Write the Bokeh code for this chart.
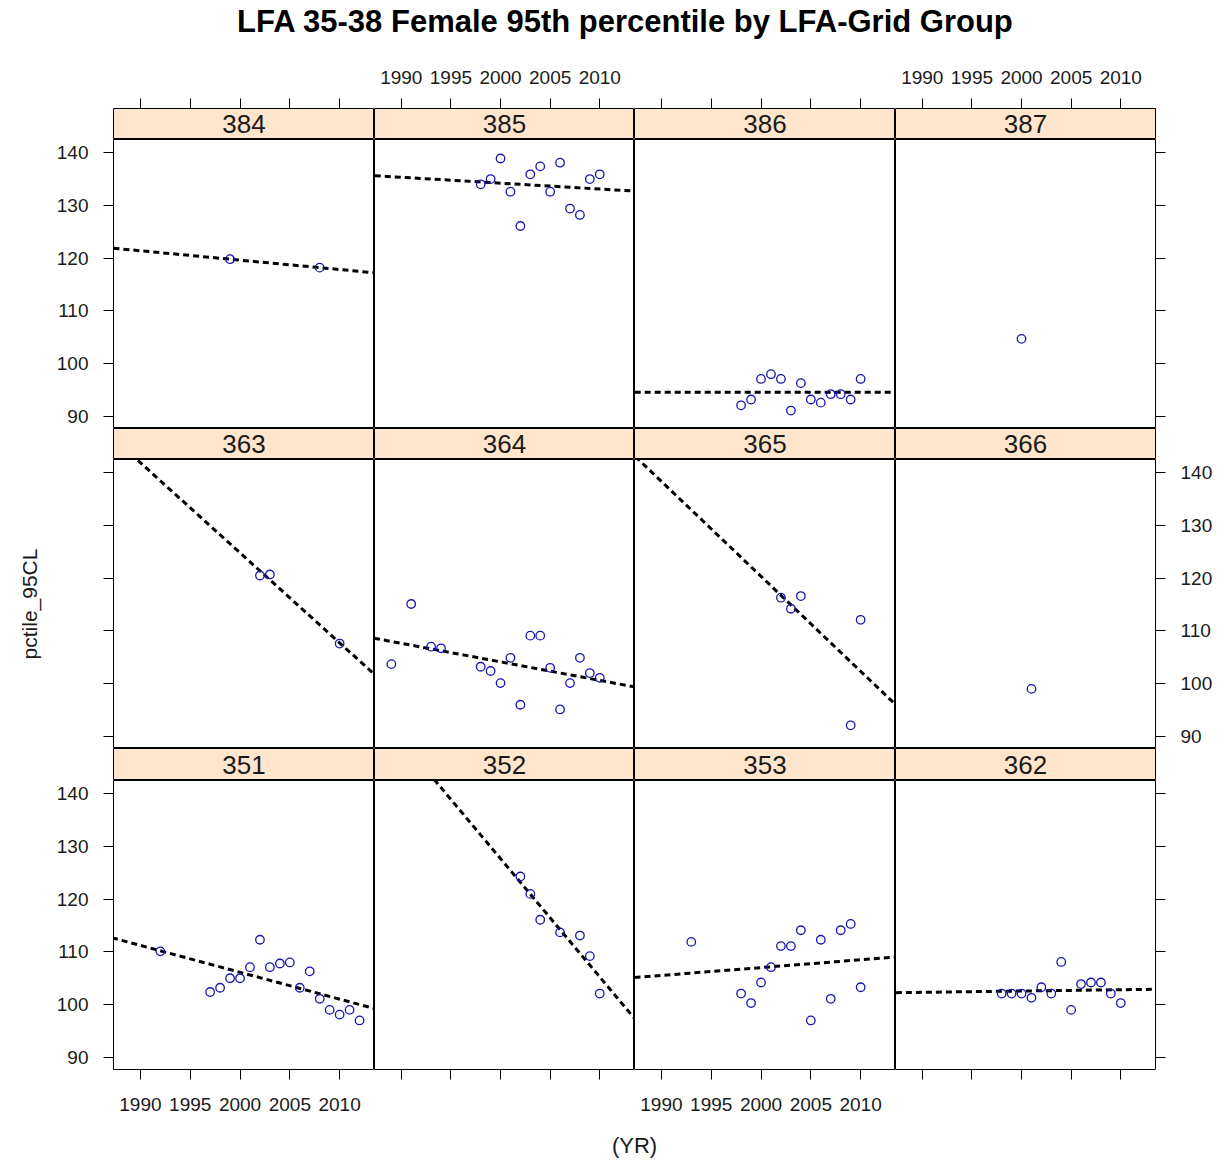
import numpy as np
from bokeh.plotting import figure
from bokeh.layouts import column, row
from bokeh.models import Range1d, FixedTicker
from bokeh.embed import file_html
from bokeh.resources import INLINE
from bokeh.core.properties import value

# ---------------- data ----------------
TITLE = "LFA 35-38 Female 95th percentile by LFA-Grid Group"
X_LABEL = "(YR)"
Y_LABEL = "pctile_95CL"
x_ticks = [1990, 1995, 2000, 2005, 2010]
y_ticks = [90, 100, 110, 120, 130, 140]
panel_rows = [["384", "385", "386", "387"],
              ["363", "364", "365", "366"],
              ["351", "352", "353", "362"]]

yr_384 = [1999, 2008]
val_384 = [119.8, 118.2]
yr_385 = [1998, 1999, 2000, 2001, 2002, 2003, 2004, 2005, 2006, 2007, 2008, 2009, 2010]
val_385 = [134.0, 135.0, 138.9, 132.6, 126.1, 135.9, 137.4, 132.6, 138.1, 129.4, 128.2, 135.0, 135.9]
yr_386 = [1998, 1999, 2000, 2001, 2002, 2003, 2004, 2005, 2006, 2007, 2008, 2009, 2010]
val_386 = [92.1, 93.2, 97.1, 98.0, 97.1, 91.1, 96.3, 93.2, 92.6, 94.2, 94.2, 93.2, 97.1]
yr_387 = [2000]
val_387 = [104.7]

yr_363 = [2002, 2003, 2010]
val_363 = [120.5, 120.7, 107.6]
yr_364 = [1989, 1991, 1993, 1994, 1998, 1999, 2000, 2001, 2002, 2003, 2004, 2005, 2006, 2007, 2008, 2009, 2010]
val_364 = [103.7, 115.1, 107.0, 106.7, 103.2, 102.4, 100.1, 104.9, 96.0, 109.1, 109.1, 103.0, 95.1, 100.1, 104.9, 102.0, 101.1]
yr_365 = [2002, 2003, 2004, 2009, 2010]
val_365 = [116.3, 114.2, 116.6, 92.1, 112.1]
yr_366 = [2001]
val_366 = [99.0]

yr_351 = [1992, 1997, 1998, 1999, 2000, 2001, 2002, 2003, 2004, 2005, 2006, 2007, 2008, 2009, 2010, 2011, 2012]
val_351 = [110.1, 102.4, 103.2, 105.0, 105.0, 107.1, 112.3, 107.1, 107.8, 108.0, 103.2, 106.3, 101.1, 99.0, 98.1, 99.0, 97.0]
yr_352 = [2002, 2003, 2004, 2006, 2008, 2009, 2010]
val_352 = [124.3, 121.0, 116.1, 113.7, 113.1, 109.2, 102.1]
yr_353 = [1993, 1998, 1999, 2000, 2001, 2002, 2003, 2004, 2005, 2006, 2007, 2008, 2009, 2010]
val_353 = [111.9, 102.1, 100.3, 104.2, 107.1, 111.1, 111.1, 114.1, 97.0, 112.3, 101.1, 114.1, 115.3, 103.3]
yr_362 = [1998, 1999, 2000, 2001, 2002, 2003, 2004, 2005, 2006, 2007, 2008, 2009, 2010]
val_362 = [102.1, 102.1, 102.1, 101.3, 103.3, 102.1, 108.1, 99.0, 103.9, 104.2, 104.2, 102.1, 100.3]

panel_data = {
    "384": (yr_384, val_384), "385": (yr_385, val_385), "386": (yr_386, val_386), "387": (yr_387, val_387),
    "363": (yr_363, val_363), "364": (yr_364, val_364), "365": (yr_365, val_365), "366": (yr_366, val_366),
    "351": (yr_351, val_351), "352": (yr_352, val_352), "353": (yr_353, val_353), "362": (yr_362, val_362),
}

# ---------------- styling / layout ----------------
FONT = "Liberation Sans"
X_MIN, X_MAX = 1987.3, 2013.5
Y_MIN, Y_MAX = 87.7, 142.5
FRAME_W = [261, 260, 261, 260]
LEFT_B, RIGHT_B = 113, 58
PANEL_H = 289
STRIP_H = [31, 31, 32]
STRIP_BG = "#FFE5CC"
PT_COLOR = "#1515B0"
TXT = "#1a1a1a"
TOTAL_W = LEFT_B + sum(FRAME_W) + RIGHT_B
TITLE_H = 48
XLAB_H = 47

xr = Range1d(X_MIN, X_MAX)
yr_ = Range1d(Y_MIN, Y_MAX)


def style_axis(ax, ticks, show_labels, standoff):
    ax.ticker = FixedTicker(ticks=ticks)
    ax.axis_line_color = None
    ax.major_tick_out = 10
    ax.major_tick_in = 0
    ax.major_tick_line_color = "black"
    ax.major_tick_line_width = 1
    ax.minor_tick_line_color = None
    ax.major_label_text_font = FONT
    ax.major_label_text_font_size = "19px"
    ax.major_label_text_color = TXT
    ax.major_label_standoff = standoff
    if not show_labels:
        ax.major_label_overrides = {t: "" for t in ticks}


def base_fig(ci, fh, top=0, bottom=0, x_loc=None, y_loc=None, y_range=None):
    p = figure(frame_width=FRAME_W[ci], frame_height=fh,
               x_range=xr, y_range=y_range if y_range is not None else yr_,
               x_axis_location=x_loc, y_axis_location=y_loc,
               toolbar_location=None, output_backend="svg",
               min_border_left=LEFT_B if ci == 0 else 0,
               min_border_right=RIGHT_B if ci == 3 else 0,
               min_border_top=top, min_border_bottom=bottom)
    p.outline_line_color = "black"
    p.outline_line_width = 1
    p.outline_line_alpha = 1
    p.grid.visible = False
    p.background_fill_color = "white"
    p.border_fill_color = "white"
    return p


layout_rows = []

# title
tf = figure(frame_width=TOTAL_W, frame_height=TITLE_H, x_range=Range1d(0, TOTAL_W), y_range=Range1d(0, TITLE_H),
            x_axis_location=None, y_axis_location=None, toolbar_location=None, output_backend="svg",
            min_border=0)
tf.outline_line_color = None
tf.grid.visible = False
tf.text(x=[625], y=[TITLE_H - 21], text=[TITLE], text_align="center", text_baseline="middle",
        text_font=value(FONT), text_font_size="31px", text_font_style="bold", text_color="black")
layout_rows.append(tf)

for ri, labels in enumerate(panel_rows):
    strips = []
    panels = []
    for ci, lab in enumerate(labels):
        # strip
        if ri == 0:
            s = base_fig(ci, STRIP_H[ri], top=60, x_loc="above", y_range=Range1d(0, 1))
            style_axis(s.xaxis[0], x_ticks, ci in (1, 3), 15)
        else:
            s = base_fig(ci, STRIP_H[ri], y_range=Range1d(0, 1))
        s.background_fill_color = STRIP_BG
        s.text(x=[(X_MIN + X_MAX) / 2], y=[0.5], text=[lab], text_align="center", text_baseline="middle",
               text_font=value(FONT), text_font_size="26px", text_color=TXT)
        strips.append(s)

        # panel
        y_loc = "left" if ci == 0 else ("right" if ci == 3 else None)
        x_loc = "below" if ri == 2 else None
        p = base_fig(ci, PANEL_H, bottom=46 if ri == 2 else 0, x_loc=x_loc, y_loc=y_loc)
        if ri == 2:
            style_axis(p.xaxis[0], x_ticks, ci in (0, 2), 18)
        if ci == 0:
            style_axis(p.yaxis[0], y_ticks, ri in (0, 2), 15)
            if ri == 1:
                ax = p.yaxis[0]
                ax.axis_label = Y_LABEL
                ax.axis_label_text_font = FONT
                ax.axis_label_text_font_size = "21px"
                ax.axis_label_text_font_style = "normal"
                ax.axis_label_text_color = TXT
                ax.axis_label_standoff = 63
        if ci == 3:
            style_axis(p.yaxis[0], y_ticks, ri == 1, 15)

        xs, ys = panel_data[lab]
        xs = np.asarray(xs, dtype=float)
        ys = np.asarray(ys, dtype=float)
        if len(xs) >= 2:
            b, a = np.polyfit(xs, ys, 1)
            lx = np.array([X_MIN - 5, X_MAX + 5])
            p.line(lx, a + b * lx, line_color="black", line_width=3, line_dash="6 4")
        p.scatter(xs, ys, marker="circle", size=8.5, fill_color=None, line_color=PT_COLOR, line_width=1.3)
        panels.append(p)
    layout_rows.append(row(*strips, spacing=0))
    layout_rows.append(row(*panels, spacing=0))

# x label
xf = figure(frame_width=TOTAL_W, frame_height=XLAB_H, x_range=Range1d(0, TOTAL_W), y_range=Range1d(0, XLAB_H),
            x_axis_location=None, y_axis_location=None, toolbar_location=None, output_backend="svg",
            min_border=0)
xf.outline_line_color = None
xf.grid.visible = False
xf.text(x=[634], y=[XLAB_H - 30], text=[X_LABEL], text_align="center", text_baseline="middle",
        text_font=value(FONT), text_font_size="22px", text_color=TXT)
layout_rows.append(xf)

layout = column(*layout_rows, spacing=0)

open("out.html", "w").write(file_html(layout, INLINE, title="LFA 35-38"))
